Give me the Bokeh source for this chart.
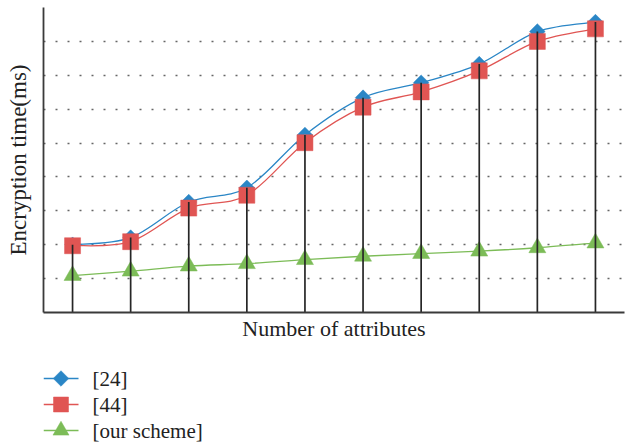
import numpy as np
from bokeh.plotting import figure
from bokeh.layouts import column
from bokeh.models import Range1d, FixedTicker
from bokeh.core.properties import value
from bokeh.embed import file_html
from bokeh.resources import INLINE

attributes = [1, 2, 3, 4, 5, 6, 7, 8, 9, 10]
ref24 = [2.00, 2.21, 3.26, 3.68, 5.24, 6.34, 6.78, 7.33, 8.29, 8.57]
ref44 = [1.97, 2.09, 3.08, 3.46, 5.01, 6.06, 6.51, 7.13, 8.00, 8.37]
ours = [1.09, 1.22, 1.37, 1.44, 1.56, 1.66, 1.74, 1.81, 1.91, 2.05]
grid_levels = [1, 2, 3, 4, 5, 6, 7, 8, 9]
labels = ["[24]", "[44]", "[our scheme]"]

BLUE = "#2a86c6"
RED = "#e05553"
GREEN = "#7cbc57"
FONT = "Liberation Serif"
FS = "22px"

p = figure(width=625, height=352, output_backend="svg", toolbar_location=None,
           x_range=Range1d(0.5, 10.5), y_range=Range1d(0, 9),
           min_border_left=43, min_border_right=1, min_border_top=7,
           min_border_bottom=40)
p.outline_line_color = None
p.xgrid.grid_line_color = None
p.ygrid.ticker = FixedTicker(ticks=grid_levels)
p.ygrid.grid_line_color = "#666666"
p.ygrid.grid_line_dash = "2 10"
p.ygrid.grid_line_width = 1.5

for ax in (p.xaxis, p.yaxis):
    ax.major_tick_line_color = None
    ax.minor_tick_line_color = None
    ax.major_label_text_font_size = "0px"
    ax.axis_line_color = "#3a3a3a"
    ax.axis_line_width = 1.8
    ax.axis_label_text_font = FONT
    ax.axis_label_text_font_size = FS
    ax.axis_label_text_font_style = "normal"
    ax.axis_label_text_color = "#222222"
p.yaxis.axis_label_text_font_size = "23px"
p.yaxis.ticker = FixedTicker(ticks=grid_levels)
p.xaxis.ticker = FixedTicker(ticks=attributes)
p.xaxis.axis_label = "Number of attributes"
p.yaxis.axis_label = "Encryption time(ms)"
p.xaxis.axis_label_standoff = -3
p.yaxis.axis_label_standoff = 7


def smooth(xs, ys):
    n = len(xs)
    out = {k: [] for k in ("x0", "y0", "x1", "y1", "cx0", "cy0", "cx1", "cy1")}
    for i in range(n - 1):
        im = max(i - 1, 0)
        ip = min(i + 2, n - 1)
        out["x0"].append(xs[i]); out["y0"].append(ys[i])
        out["x1"].append(xs[i + 1]); out["y1"].append(ys[i + 1])
        out["cx0"].append(xs[i] + (xs[i + 1] - xs[im]) / 6)
        out["cy0"].append(ys[i] + (ys[i + 1] - ys[im]) / 6)
        out["cx1"].append(xs[i + 1] - (xs[ip] - xs[i]) / 6)
        out["cy1"].append(ys[i + 1] - (ys[ip] - ys[i]) / 6)
    return out

# legend panel: its frame is aligned with the main frame (x 43..624), y downward
lf = figure(width=625, height=90, output_backend="svg", toolbar_location=None,
            x_range=Range1d(43, 624), y_range=Range1d(90, 0),
            min_border=0, min_border_left=43, min_border_right=1)
lf.axis.visible = False
lf.grid.visible = False
lf.outline_line_color = None
LG_X0, LG_X1, LG_TX = 43, 78, 92
LG_ROW0, LG_DY = 26, 26

series = [
    (ref24, BLUE, "square", 11, np.pi / 4, 11),
    (ref44, RED, "square", 16, 0, 15),
    (ours, GREEN, "triangle", 17, 0, 16),
]
for k, ((vals, col, mk, sz, ang, lsz), lab) in enumerate(zip(series, labels)):
    s = smooth(attributes, vals)
    p.bezier(x0=s["x0"], y0=s["y0"], x1=s["x1"], y1=s["y1"],
             cx0=s["cx0"], cy0=s["cy0"], cx1=s["cx1"], cy1=s["cy1"],
             line_color=col, line_width=1.3)
    p.scatter(x=attributes, y=vals, marker=mk, size=sz, angle=ang,
              fill_color=col, line_color=col, line_alpha=0.5)
    ry = LG_ROW0 + k * LG_DY
    lf.line(x=[LG_X0, LG_X1], y=[ry, ry], line_color=col, line_width=1.3)
    lf.scatter(x=[(LG_X0 + LG_X1) / 2], y=[ry], marker=mk, size=lsz, angle=ang,
               fill_color=col, line_color=col, line_alpha=0.5)
    lf.text(x=[LG_TX], y=[ry], text=[lab], text_font=value(FONT),
            text_font_size="21px", text_baseline="middle", text_align="left",
            text_color="#222222")

# stems
p.segment(x0=attributes, y0=[0] * len(attributes), x1=attributes, y1=ref24,
          line_color="#262626", line_width=1.7)

open("out.html", "w").write(file_html(column(p, lf, spacing=0), INLINE))
